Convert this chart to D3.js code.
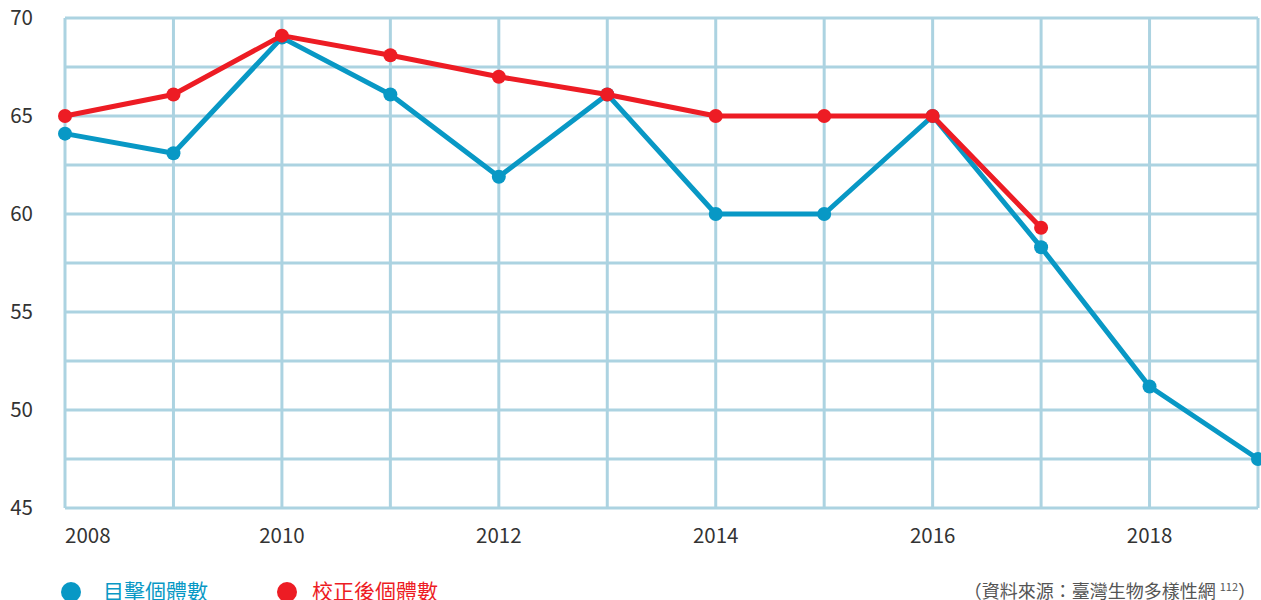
<!DOCTYPE html>
<html>
<head>
<meta charset="utf-8">
<script src="https://cdn.jsdelivr.net/npm/d3@7"></script>
<style>
  body { margin: 0; background: #fff; }
  text { font-family: "Noto Sans CJK TC", "Noto Sans", sans-serif; }
</style>
</head>
<body>
<svg id="chart" width="1261" height="600"></svg>
<script>
'use strict';

var years = [2008, 2009, 2010, 2011, 2012, 2013, 2014, 2015, 2016, 2017, 2018, 2019];
var sighted = [64.1, 63.1, 69.0, 66.1, 61.9, 66.1, 60.0, 60.0, 65.0, 58.3, 51.2, 47.5];
var corrected = [65.0, 66.1, 69.1, 68.1, 67.0, 66.1, 65.0, 65.0, 65.0, 59.3];
var yTicks = [45, 50, 55, 60, 65, 70];
var xTicks = [2008, 2010, 2012, 2014, 2016, 2018];
var seriesNames = ['目擊個體數', '校正後個體數'];

var blue = '#0898c5';
var red = '#ed1c24';
var gridColor = '#acd3e1';

var svg = d3.select('#chart');
var plotLeft = 65, plotRight = 1258, plotTop = 18, plotBottom = 508;

var x = d3.scaleLinear().domain([2008, 2019]).range([plotLeft, plotRight]);
var y = d3.scaleLinear().domain([45, 70]).range([plotBottom, plotTop]);

var grid = svg.append('g');
grid.selectAll('line.v').data(years).enter().append('line')
	.attr('x1', function (d) { return x(d); })
	.attr('x2', function (d) { return x(d); })
	.attr('y1', plotTop).attr('y2', plotBottom)
	.style('stroke', gridColor).style('stroke-width', 3);
grid.selectAll('line.h').data(d3.range(45, 70.1, 2.5)).enter().append('line')
	.attr('x1', plotLeft).attr('x2', plotRight)
	.attr('y1', function (d) { return y(d); })
	.attr('y2', function (d) { return y(d); })
	.style('stroke', gridColor).style('stroke-width', 3);

svg.append('g').selectAll('text').data(yTicks).enter().append('text')
	.attr('x', 33).attr('y', function (d) { return y(d); })
	.attr('dy', '0.35em')
	.attr('text-anchor', 'end')
	.style('font-size', '20.5px').style('fill', '#333')
	.text(function (d) { return d; });

svg.append('g').selectAll('text').data(xTicks).enter().append('text')
	.attr('x', function (d) { return x(d); }).attr('y', 543)
	.attr('text-anchor', function (d, i) { return i === 0 ? 'start' : 'middle'; })
	.style('font-size', '20.5px').style('fill', '#333')
	.text(function (d) { return d; });

function drawSeries(values, color) {
	var pts = values.map(function (v, i) { return [years[i], v]; });
	var line = d3.line().x(function (d) { return x(d[0]); }).y(function (d) { return y(d[1]); });
	var g = svg.append('g');
	g.append('path').datum(pts).attr('d', line)
		.style('fill', 'none').style('stroke', color)
		.style('stroke-width', 5).style('stroke-linejoin', 'round');
	g.selectAll('circle').data(pts).enter().append('circle')
		.attr('cx', function (d) { return x(d[0]); })
		.attr('cy', function (d) { return y(d[1]); })
		.attr('r', 7)
		.style('fill', color);
}

drawSeries(sighted, blue);
drawSeries(corrected, red);

var legend = svg.append('g');
var legendDot = [71, 287];
var legendText = [103, 312];
var colors = [blue, red];
seriesNames.forEach(function (name, i) {
	legend.append('circle').attr('cx', legendDot[i]).attr('cy', 592).attr('r', 10).style('fill', colors[i]);
	legend.append('text').attr('x', legendText[i]).attr('y', 599)
		.style('font-size', '21px').style('fill', colors[i]).text(name);
});

var src = svg.append('text').attr('x', 1256).attr('y', 598)
	.attr('text-anchor', 'end')
	.style('font-size', '18px').style('fill', '#555');
src.append('tspan').text('（資料來源：臺灣生物多樣性網 ');
src.append('tspan').attr('dy', -7).style('font-size', '11px').text('112');
src.append('tspan').attr('dy', 7).text('）');
</script>
</body>
</html>
